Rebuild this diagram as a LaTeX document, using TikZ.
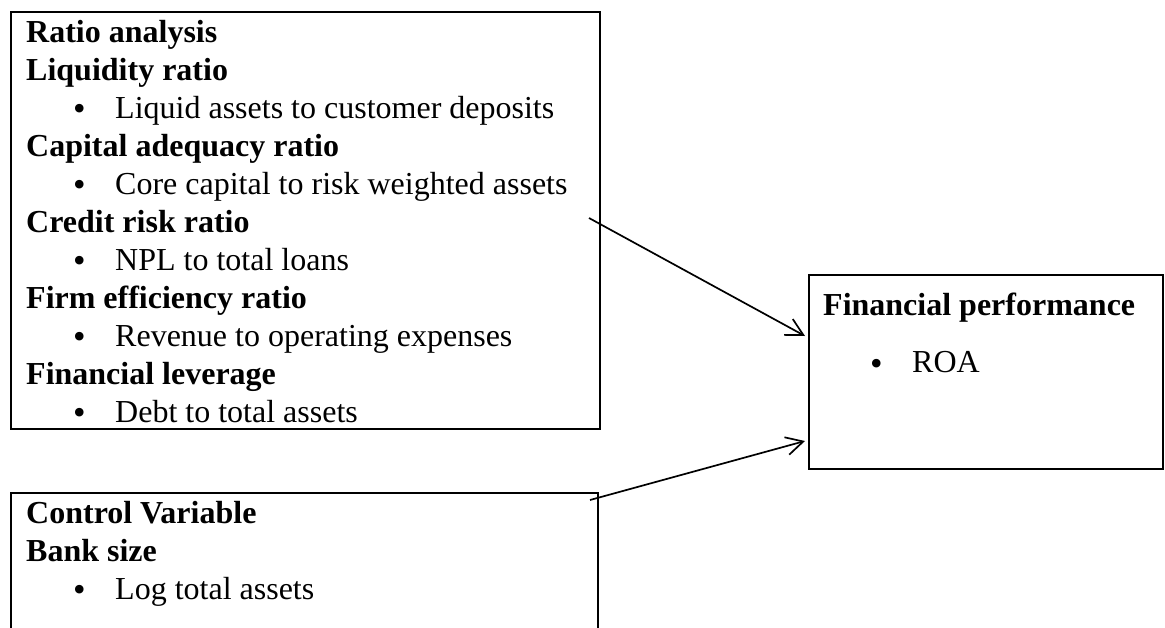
\documentclass[tikz,border=0pt]{standalone}
\usepackage{graphicx}
\usepackage{fontspec}
\setmainfont{Liberation Serif}
\usepackage{tikz}
\usetikzlibrary{arrows.meta,positioning,calc}

\newcommand{\bitem}[1]{\makebox[89pt][l]{\hspace*{47pt}\raisebox{-2.5pt}{\scalebox{1.12}{\textbullet}}}#1}

\begin{document}
\begin{tikzpicture}[
  x=1pt, y=-1pt,
  >={Straight Barb[length=17pt,width=18pt]},
  every node/.style={font=\fontsize{32}{38}\selectfont},
  frame/.style={
    draw, rectangle, line width=2.2pt,
    outer sep=0pt, anchor=north west
  },
  boxtext/.style={
    align=left, inner sep=0pt, anchor=north west
  },
  link/.style={->, line width=1.7pt}
]
\useasboundingbox (0,0) rectangle (1165,627);
\clip (0,0) rectangle (1165,627);

% --- Frames ---
\node[frame, minimum width=589pt, minimum height=417pt] (ratio) at (11,12) {};
\node[frame, minimum width=354pt, minimum height=194pt] (perf) at (809,275) {};
\node[frame, minimum width=587pt, minimum height=160pt] (ctrl) at (11,493) {};

% --- Texts ---
\node[boxtext, below right=8pt and 15pt of ratio.north west] (ratiotxt) {
  \textbf{Ratio analysis}\\
  \textbf{Liquidity ratio}\\
  \bitem{Liquid assets to customer deposits}\\
  \textbf{Capital adequacy ratio}\\
  \bitem{Core capital to risk weighted assets}\\
  \textbf{Credit risk ratio}\\
  \bitem{NPL to total loans}\\
  \textbf{Firm efficiency ratio}\\
  \bitem{Revenue to operating expenses}\\
  \textbf{Financial leverage}\\
  \bitem{Debt to total assets}
};

\node[boxtext, below right=18pt and 14pt of perf.north west] (perftxt) {
  \textbf{Financial performance}\\[19pt]
  \bitem{ROA}
};

\node[boxtext, below right=8pt and 15pt of ctrl.north west] (ctrltxt) {
  \textbf{Control Variable}\\
  \textbf{Bank size}\\
  \bitem{Log total assets}
};

% --- Links ---
\coordinate (ratioout) at ($(ratio.east)+(-11,-2.5)$);
\coordinate (ctrlout) at ($(ctrl.north east)+(-8,7)$);
\coordinate (perfin1) at ($(perf.west)+(-4,-36)$);
\coordinate (perfin2) at ($(perf.west)+(-4,69)$);

\draw[link] (ratioout) -- (perfin1);
\draw[link] (ctrlout) -- (perfin2);

\end{tikzpicture}
\end{document}
